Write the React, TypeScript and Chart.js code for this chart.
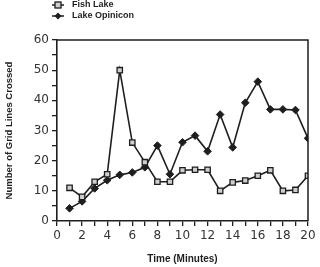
import React, { useEffect, useRef } from "react";
import { Chart, registerables } from "chart.js";

Chart.register(...registerables);

const minutes = [1, 2, 3, 4, 5, 6, 7, 8, 9, 10, 11, 12, 13, 14, 15, 16, 17, 18, 19, 20];
const fishLake = [11, 8, 13, 15.5, 50, 26, 19.5, 13, 13, 16.8, 17, 17, 10, 12.8, 13.4, 15, 16.8, 10, 10.3, 15];
const lakeOpinicon = [4.2, 6.5, 10.8, 13.5, 15.3, 16.1, 17.8, 25, 15.5, 26.1, 28.3, 23.1, 35.3, 24.4, 39.2, 46.2, 37, 37, 36.8, 27.4];
const seriesNames = ["Fish Lake", "Lake Opinicon"];
const xTitle = "Time (Minutes)";
const yTitle = "Number of Grid Lines Crossed";

const INK = "#1e1e1e";
const SQ_FILL = "#cfcfcf";

const legendPlugin = {
  id: "customLegend",
  afterDraw(chart: any) {
    const ctx = chart.ctx;
    ctx.save();
    const items = [
      { name: seriesNames[0], y: 5, style: "rect" },
      { name: seriesNames[1], y: 16, style: "diamond" },
    ];
    for (const it of items) {
      ctx.strokeStyle = INK;
      ctx.lineWidth = 1.5;
      ctx.beginPath();
      ctx.moveTo(52, it.y);
      ctx.lineTo(64, it.y);
      ctx.stroke();
      if (it.style === "rect") {
        ctx.fillStyle = SQ_FILL;
        ctx.fillRect(55, it.y - 3, 6, 6);
        ctx.lineWidth = 1.3;
        ctx.strokeRect(55, it.y - 3, 6, 6);
      } else {
        ctx.fillStyle = INK;
        ctx.beginPath();
        ctx.moveTo(58, it.y - 3.5);
        ctx.lineTo(61.5, it.y);
        ctx.lineTo(58, it.y + 3.5);
        ctx.lineTo(54.5, it.y);
        ctx.closePath();
        ctx.fill();
      }
      ctx.fillStyle = INK;
      ctx.font = "bold 9px 'Liberation Sans', Arial, sans-serif";
      ctx.textBaseline = "middle";
      ctx.textAlign = "left";
      ctx.fillText(it.name, 72, it.y);
    }
    ctx.restore();
  },
};

const boxPlugin = {
  id: "boxFrame",
  afterDatasetsDraw(chart: any) {
    const { ctx, chartArea } = chart;
    ctx.save();
    ctx.strokeStyle = INK;
    ctx.lineWidth = 1.5;
    ctx.beginPath();
    ctx.moveTo(chartArea.left, chartArea.top);
    ctx.lineTo(chartArea.right, chartArea.top);
    ctx.lineTo(chartArea.right, chartArea.bottom);
    ctx.stroke();
    ctx.restore();
  },
};

export default function App() {
  const ref = useRef<HTMLCanvasElement | null>(null);

  useEffect(() => {
    document.body.style.margin = "0";
    if (!ref.current) return;
    const tickFont = { family: "'DejaVu Sans', sans-serif", size: 12 };
    const chart = new Chart(ref.current, {
      type: "line",
      data: {
        datasets: [
          {
            label: seriesNames[0],
            data: minutes.map((m, i) => ({ x: m, y: fishLake[i] })),
            borderColor: INK,
            borderWidth: 1.6,
            backgroundColor: SQ_FILL,
            pointStyle: "rect",
            pointRadius: 3.8,
            pointBorderWidth: 1.3,
            pointBorderColor: INK,
            pointBackgroundColor: SQ_FILL,
            tension: 0,
          },
          {
            label: seriesNames[1],
            data: minutes.map((m, i) => ({ x: m, y: lakeOpinicon[i] })),
            borderColor: INK,
            borderWidth: 1.6,
            backgroundColor: INK,
            pointStyle: "rectRot",
            pointRadius: 3.8,
            pointBorderWidth: 1,
            pointBorderColor: INK,
            pointBackgroundColor: INK,
            tension: 0,
          },
        ],
      },
      options: {
        responsive: false,
        animation: false,
        events: [],
        layout: { padding: { top: 40, right: 12, left: 0, bottom: 0 } },
        plugins: {
          legend: { display: false },
          tooltip: { enabled: false },
        },
        scales: {
          x: {
            type: "linear",
            min: 0,
            max: 20,
            afterFit: (scale: any) => {
              scale.height = 46;
            },
            ticks: {
              stepSize: 1,
              autoSkip: false,
              maxRotation: 0,
              color: "#333",
              font: tickFont,
              padding: 3,
              callback: (v: any) => (Number(v) % 2 === 0 ? String(v) : ""),
            },
            grid: {
              drawOnChartArea: false,
              drawTicks: true,
              tickLength: 5,
              color: INK,
              lineWidth: 1.3,
            },
            border: { display: true, color: INK, width: 1.6 },
            title: {
              display: true,
              text: xTitle,
              color: INK,
              font: { family: "'Liberation Sans', Arial, sans-serif", size: 10, weight: "bold" },
              padding: { top: 0, bottom: 2 },
            },
          },
          y: {
            min: 0,
            max: 60,
            afterFit: (scale: any) => {
              scale.width = 57;
            },
            ticks: {
              stepSize: 5,
              autoSkip: false,
              color: "#333",
              font: tickFont,
              padding: 3,
              callback: (v: any) => (Number(v) % 10 === 0 ? String(v) : ""),
            },
            grid: {
              drawOnChartArea: false,
              drawTicks: true,
              tickLength: 5,
              color: INK,
              lineWidth: 1.3,
            },
            border: { display: true, color: INK, width: 1.6 },
            title: {
              display: true,
              text: yTitle,
              color: INK,
              font: { family: "'Liberation Sans', Arial, sans-serif", size: 9.5, weight: "bold" },
              padding: { top: 4, bottom: 0 },
            },
          },
        },
      },
      plugins: [legendPlugin, boxPlugin],
    } as any);
    return () => chart.destroy();
  }, []);

  return (
    <div style={{ position: "absolute", left: 0, top: 0, width: 320, height: 267, background: "#fff" }}>
      <canvas ref={ref} width={320} height={267} style={{ width: 320, height: 267, display: "block" }} />
    </div>
  );
}
